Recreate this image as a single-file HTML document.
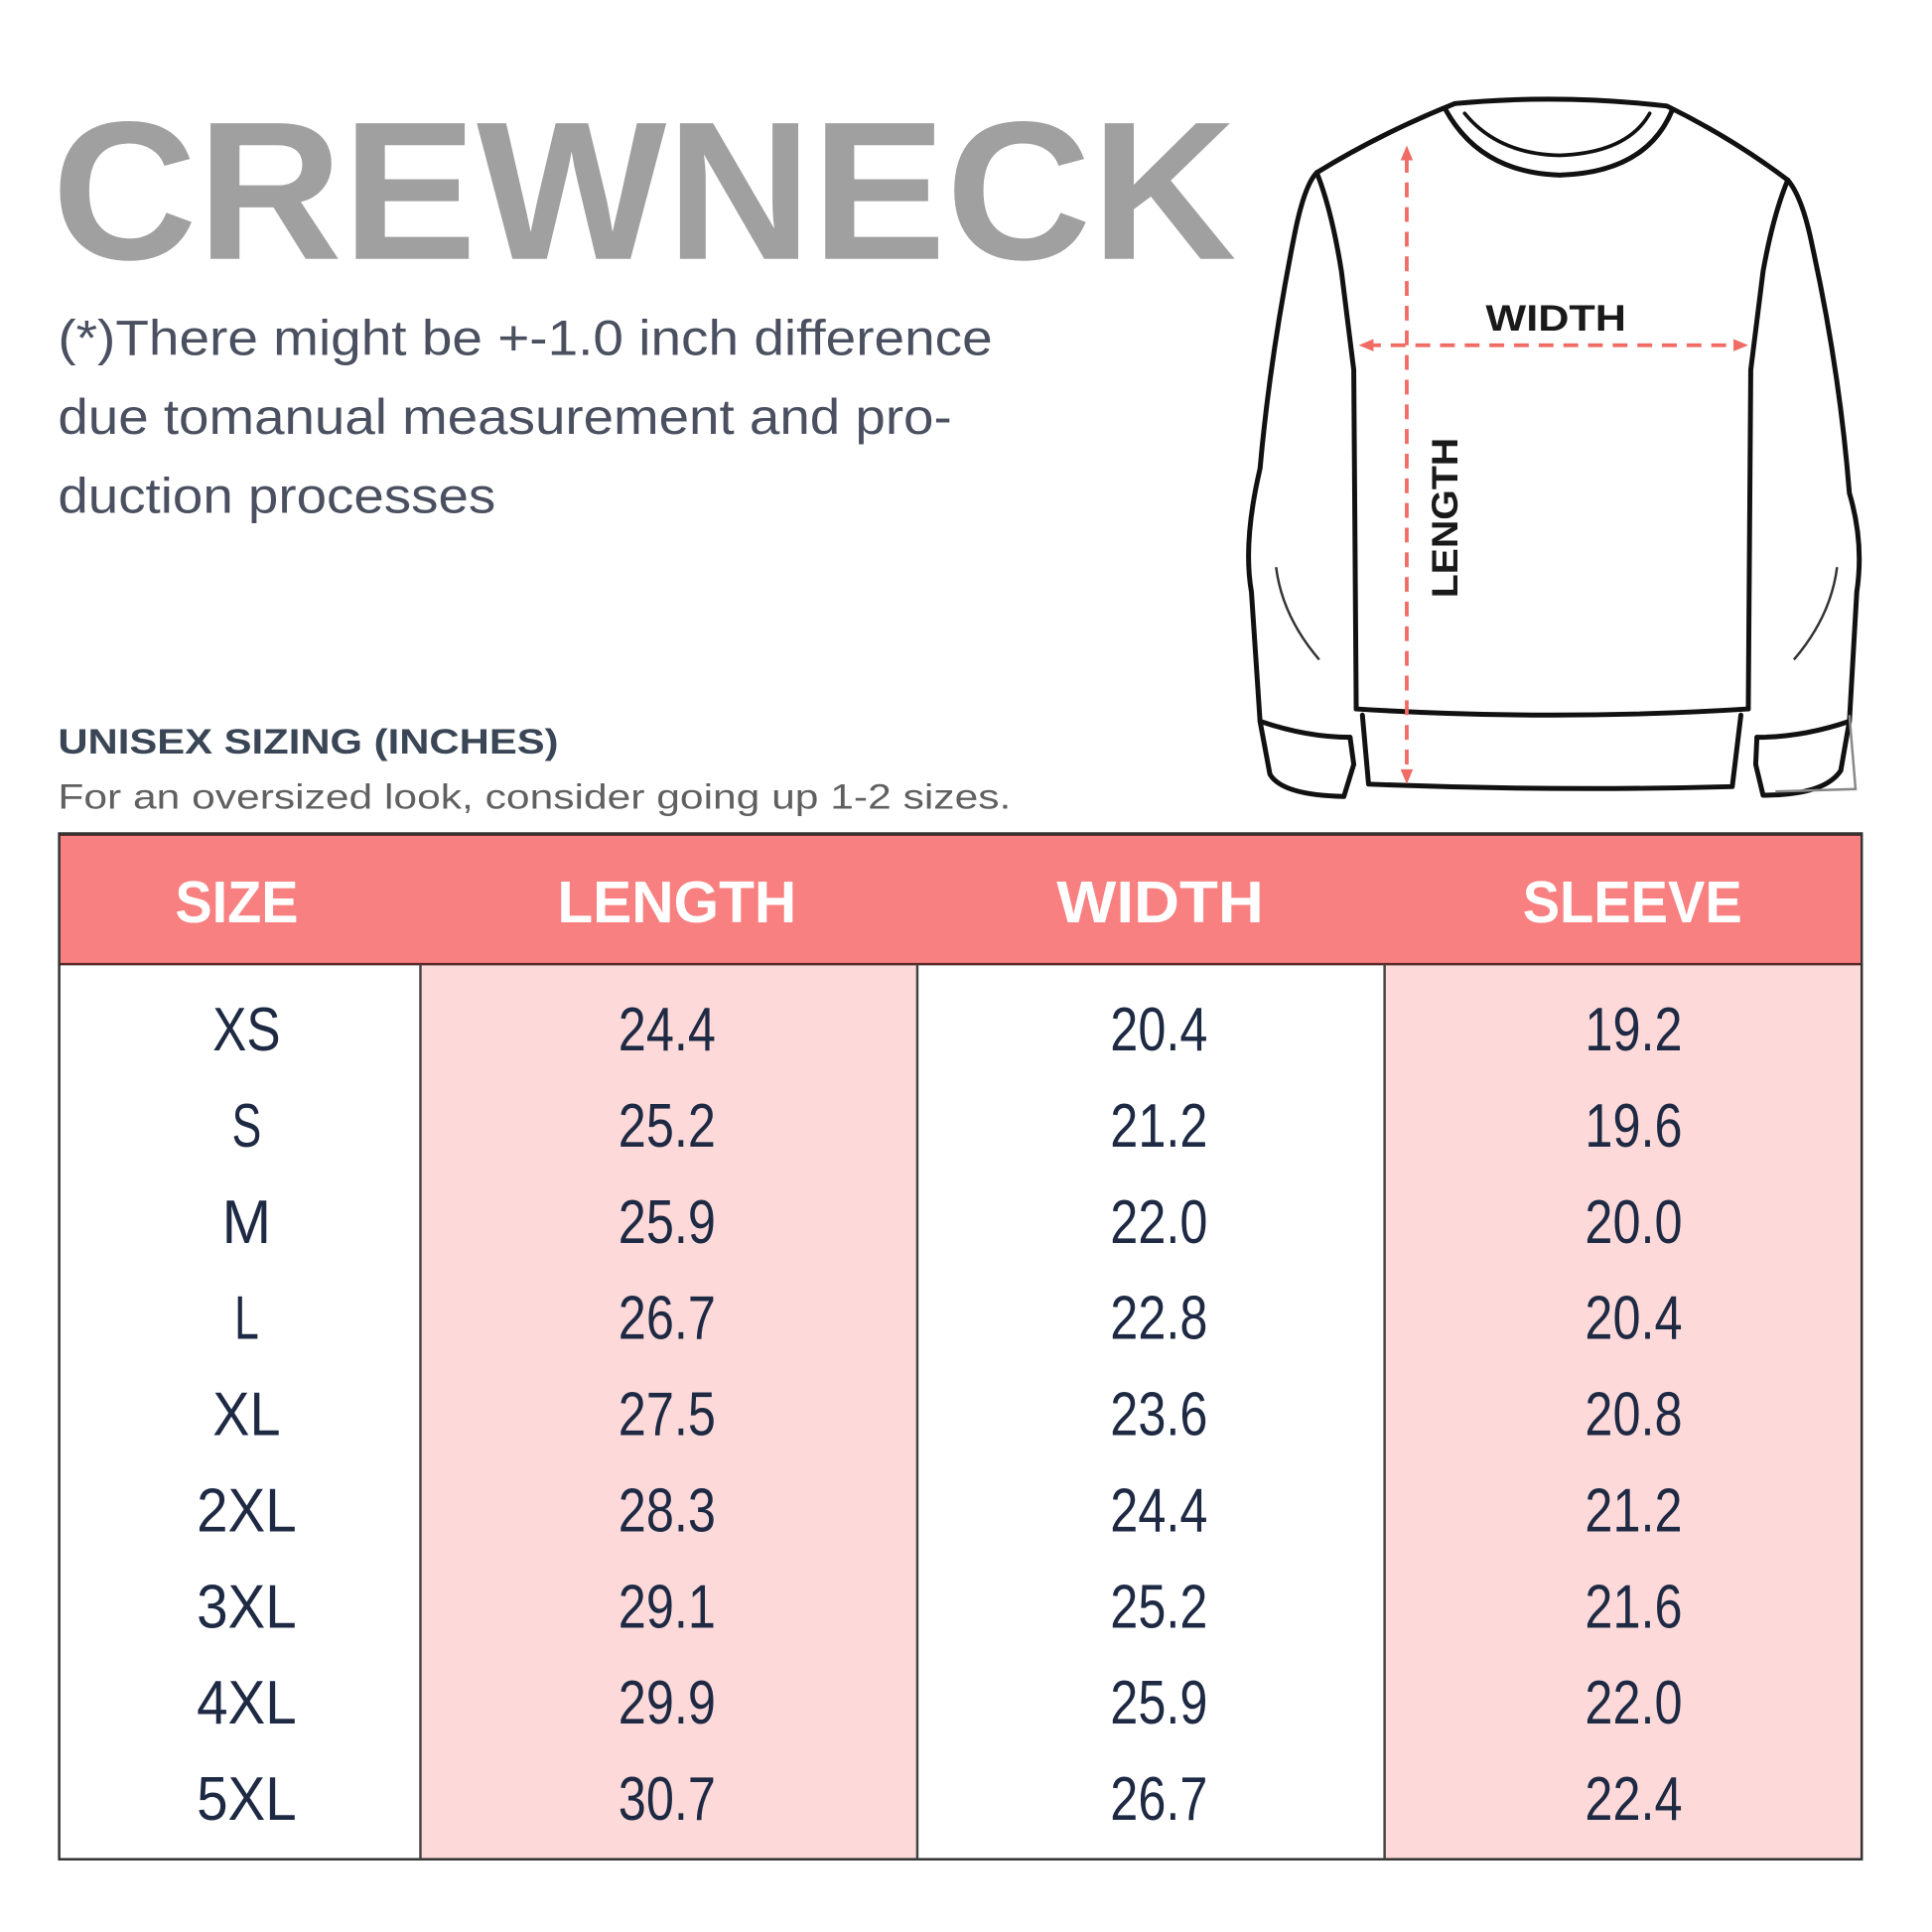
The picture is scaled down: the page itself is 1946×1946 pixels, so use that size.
<!DOCTYPE html>
<html><head><meta charset="utf-8"><style>
html,body{margin:0;padding:0;background:#fff;}
svg{display:block}
text{font-family:"Liberation Sans",sans-serif}
</style></head><body>
<svg width="1946" height="1946" viewBox="0 0 1567 1567" xmlns="http://www.w3.org/2000/svg">
<rect width="1567" height="1567" fill="#fff"/>
<text x="42" y="210" font-size="160" font-weight="bold" fill="#a0a0a0" textLength="961" lengthAdjust="spacingAndGlyphs">CREWNECK</text>
<g fill="#4a5060" font-size="40">
<text x="47" y="288" textLength="758" lengthAdjust="spacingAndGlyphs">(*)There might be +-1.0 inch difference</text>
<text x="47" y="352" textLength="725" lengthAdjust="spacingAndGlyphs">due tomanual measurement and pro-</text>
<text x="47" y="416" textLength="355" lengthAdjust="spacingAndGlyphs">duction processes</text>
</g>
<text x="47" y="611" font-size="28" font-weight="bold" fill="#3a4656" textLength="406" lengthAdjust="spacingAndGlyphs">UNISEX SIZING (INCHES)</text>
<text x="47" y="656" font-size="28" fill="#606060" textLength="773" lengthAdjust="spacingAndGlyphs">For an oversized look, consider going up 1-2 sizes.</text>

<!-- sweater -->
<g fill="none" stroke="#111" stroke-width="4" stroke-linecap="round" stroke-linejoin="round">
<path d="M1068,140 Q1120,108 1180,84 Q1265,76 1352,86 Q1405,112 1450,146"/>
<path d="M1172,88 Q1200,140 1265,142 Q1335,140 1356,90"/>
<path d="M1188,92 Q1215,125 1265,126 Q1320,124 1338,92" stroke-width="3"/>
<path d="M1068,140 Q1058,150 1050,190 Q1030,290 1022,380 Q1008,440 1015,480 L1022,585 L1030,628 Q1040,645 1090,646 L1098,620 L1095,598"/>
<path d="M1068,140 Q1080,170 1088,220 L1098,300 L1100,575"/>
<path d="M1022,585 Q1060,598 1095,598"/>
<path d="M1450,146 Q1462,160 1470,200 Q1492,300 1500,400 Q1512,440 1506,480 L1500,585 L1493,625 Q1480,645 1430,645 L1424,620 L1425,598"/>
<path d="M1450,146 Q1438,175 1430,220 L1420,300 L1418,575"/>
<path d="M1500,585 Q1462,598 1425,598"/>
<path d="M1100,575 Q1260,585 1418,575"/>
<path d="M1105,580 L1110,636 Q1260,642 1405,638 L1412,580"/>
</g>
<g fill="none" stroke="#333" stroke-width="2">
<path d="M1035,460 Q1040,500 1070,535"/>
<path d="M1490,460 Q1485,500 1455,535"/>
<path d="M1500,580 L1505,640 L1440,642" stroke="#888"/>
</g>
<g stroke="#ef6b64" stroke-width="3" stroke-dasharray="12,8" fill="none">
<line x1="1141" y1="128" x2="1141" y2="628"/>
<line x1="1108" y1="280" x2="1410" y2="280"/>
</g>
<g fill="#ef6b64">
<path d="M1141,118 l-5,12 h10z"/><path d="M1141,636 l-5,-12 h10z"/>
<path d="M1102,280 l12,-5 v10z"/><path d="M1418,280 l-12,-5 v10z"/>
</g>
<text x="1262" y="268" font-size="30" font-weight="bold" fill="#1a1a1a" text-anchor="middle" textLength="114" lengthAdjust="spacingAndGlyphs">WIDTH</text>
<text transform="translate(1182,420) rotate(-90)" font-size="30" font-weight="bold" fill="#1a1a1a" text-anchor="middle" textLength="130" lengthAdjust="spacingAndGlyphs">LENGTH</text>

<!-- table -->
<rect x="341" y="782" width="403" height="726" fill="#fdd9d9"/>
<rect x="1123" y="782" width="387" height="726" fill="#fdd9d9"/>
<rect x="48" y="676" width="1462" height="106" fill="#f98080"/>
<line x1="48" y1="677" x2="1510" y2="677" stroke="#5a3030" stroke-width="2"/>
<line x1="48" y1="782" x2="1510" y2="782" stroke="#5a2a2a" stroke-width="2"/>
<rect x="48" y="676" width="1462" height="832" fill="none" stroke="#333" stroke-width="2"/>
<g stroke="#444" stroke-width="2">
<line x1="341" y1="782" x2="341" y2="1508"/>
<line x1="744" y1="782" x2="744" y2="1508"/>
<line x1="1123" y1="782" x2="1123" y2="1508"/>
</g>
<g fill="#fff" font-size="48" font-weight="bold">
<text x="142" y="748" textLength="100" lengthAdjust="spacingAndGlyphs">SIZE</text>
<text x="452" y="748" textLength="194" lengthAdjust="spacingAndGlyphs">LENGTH</text>
<text x="857" y="748" textLength="168" lengthAdjust="spacingAndGlyphs">WIDTH</text>
<text x="1235" y="748" textLength="178" lengthAdjust="spacingAndGlyphs">SLEEVE</text>
</g>
<g fill="#1e2a44" font-size="50" text-anchor="middle" lengthAdjust="spacingAndGlyphs">
<text x="200" y="852" textLength="55" lengthAdjust="spacingAndGlyphs">XS</text><text x="541" y="852" textLength="79" lengthAdjust="spacingAndGlyphs">24.4</text><text x="940" y="852" textLength="79" lengthAdjust="spacingAndGlyphs">20.4</text><text x="1325" y="852" textLength="79" lengthAdjust="spacingAndGlyphs">19.2</text>
<text x="200" y="930" textLength="24" lengthAdjust="spacingAndGlyphs">S</text><text x="541" y="930" textLength="79" lengthAdjust="spacingAndGlyphs">25.2</text><text x="940" y="930" textLength="79" lengthAdjust="spacingAndGlyphs">21.2</text><text x="1325" y="930" textLength="79" lengthAdjust="spacingAndGlyphs">19.6</text>
<text x="200" y="1008" textLength="40" lengthAdjust="spacingAndGlyphs">M</text><text x="541" y="1008" textLength="79" lengthAdjust="spacingAndGlyphs">25.9</text><text x="940" y="1008" textLength="79" lengthAdjust="spacingAndGlyphs">22.0</text><text x="1325" y="1008" textLength="79" lengthAdjust="spacingAndGlyphs">20.0</text>
<text x="200" y="1086" textLength="20" lengthAdjust="spacingAndGlyphs">L</text><text x="541" y="1086" textLength="79" lengthAdjust="spacingAndGlyphs">26.7</text><text x="940" y="1086" textLength="79" lengthAdjust="spacingAndGlyphs">22.8</text><text x="1325" y="1086" textLength="79" lengthAdjust="spacingAndGlyphs">20.4</text>
<text x="200" y="1164" textLength="55" lengthAdjust="spacingAndGlyphs">XL</text><text x="541" y="1164" textLength="79" lengthAdjust="spacingAndGlyphs">27.5</text><text x="940" y="1164" textLength="79" lengthAdjust="spacingAndGlyphs">23.6</text><text x="1325" y="1164" textLength="79" lengthAdjust="spacingAndGlyphs">20.8</text>
<text x="200" y="1242" textLength="81" lengthAdjust="spacingAndGlyphs">2XL</text><text x="541" y="1242" textLength="79" lengthAdjust="spacingAndGlyphs">28.3</text><text x="940" y="1242" textLength="79" lengthAdjust="spacingAndGlyphs">24.4</text><text x="1325" y="1242" textLength="79" lengthAdjust="spacingAndGlyphs">21.2</text>
<text x="200" y="1320" textLength="81" lengthAdjust="spacingAndGlyphs">3XL</text><text x="541" y="1320" textLength="79" lengthAdjust="spacingAndGlyphs">29.1</text><text x="940" y="1320" textLength="79" lengthAdjust="spacingAndGlyphs">25.2</text><text x="1325" y="1320" textLength="79" lengthAdjust="spacingAndGlyphs">21.6</text>
<text x="200" y="1398" textLength="81" lengthAdjust="spacingAndGlyphs">4XL</text><text x="541" y="1398" textLength="79" lengthAdjust="spacingAndGlyphs">29.9</text><text x="940" y="1398" textLength="79" lengthAdjust="spacingAndGlyphs">25.9</text><text x="1325" y="1398" textLength="79" lengthAdjust="spacingAndGlyphs">22.0</text>
<text x="200" y="1476" textLength="81" lengthAdjust="spacingAndGlyphs">5XL</text><text x="541" y="1476" textLength="79" lengthAdjust="spacingAndGlyphs">30.7</text><text x="940" y="1476" textLength="79" lengthAdjust="spacingAndGlyphs">26.7</text><text x="1325" y="1476" textLength="79" lengthAdjust="spacingAndGlyphs">22.4</text>
</g>
</svg>
</body></html>
